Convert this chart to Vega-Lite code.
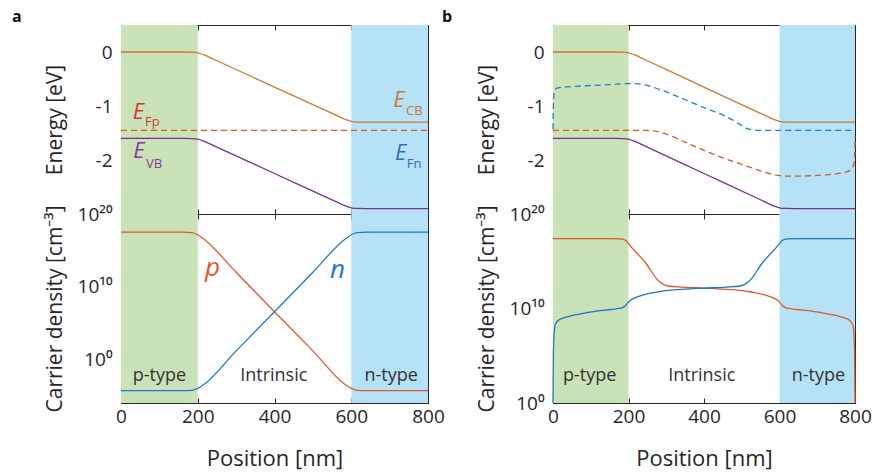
{
"$schema": "https://vega.github.io/schema/vega-lite/v6.json",
"background": "white",
"padding": {"left": 12, "top": 8, "right": 2, "bottom": 3},
"spacing": -3,
"config": {
  "font": "Open Sans",
  "view": {"stroke": null},
  "axis": {"grid": false, "domainColor": "#262626", "domainWidth": 1, "tickColor": "#262626", "tickSize": -5, "tickWidth": 1, "labelColor": "#262626", "titleColor": "#262626", "labelFontSize": 19, "titleFontSize": 21, "titleFontWeight": "normal", "labelFont": "Open Sans", "titleFont": "Open Sans", "zindex": 1, "labelFlush": false, "labelOverlap": false},
  "line": {"strokeWidth": 1.3, "interpolate": "monotone", "clip": true},
  "text": {"font": "Open Sans"}
},
"datasets": {
  "regions": [{"pos": 0, "pos2": 200, "series": "p-region"}, {"pos": 600, "pos2": 800, "series": "n-region"}],
  "bands": [
    {"pos": 0, "E": 0, "series": "CB"}, {"pos": 160, "E": 0, "series": "CB"}, {"pos": 185, "E": -0.003, "series": "CB"}, {"pos": 200, "E": -0.015, "series": "CB"}, {"pos": 215, "E": -0.05, "series": "CB"}, {"pos": 240, "E": -0.13, "series": "CB"}, {"pos": 400, "E": -0.65, "series": "CB"}, {"pos": 560, "E": -1.17, "series": "CB"}, {"pos": 585, "E": -1.25, "series": "CB"}, {"pos": 600, "E": -1.285, "series": "CB"}, {"pos": 615, "E": -1.297, "series": "CB"}, {"pos": 640, "E": -1.3, "series": "CB"}, {"pos": 800, "E": -1.3, "series": "CB"},
    {"pos": 0, "E": -1.6, "series": "VB"}, {"pos": 160, "E": -1.6, "series": "VB"}, {"pos": 185, "E": -1.603, "series": "VB"}, {"pos": 200, "E": -1.615, "series": "VB"}, {"pos": 215, "E": -1.65, "series": "VB"}, {"pos": 240, "E": -1.73, "series": "VB"}, {"pos": 400, "E": -2.25, "series": "VB"}, {"pos": 560, "E": -2.77, "series": "VB"}, {"pos": 585, "E": -2.85, "series": "VB"}, {"pos": 600, "E": -2.885, "series": "VB"}, {"pos": 615, "E": -2.897, "series": "VB"}, {"pos": 640, "E": -2.9, "series": "VB"}, {"pos": 800, "E": -2.9, "series": "VB"}
  ],
  "fermiA": [{"pos": 0, "E": -1.45, "series": "Fp"}, {"pos": 800, "E": -1.45, "series": "Fp"}],
  "fermiB": [
    {"pos": 0, "E": -1.43, "series": "Fn"}, {"pos": 1, "E": -1.0, "series": "Fn"}, {"pos": 3, "E": -0.76, "series": "Fn"}, {"pos": 8, "E": -0.68, "series": "Fn"}, {"pos": 20, "E": -0.655, "series": "Fn"}, {"pos": 60, "E": -0.635, "series": "Fn"}, {"pos": 150, "E": -0.605, "series": "Fn"}, {"pos": 200, "E": -0.585, "series": "Fn"}, {"pos": 225, "E": -0.59, "series": "Fn"}, {"pos": 260, "E": -0.64, "series": "Fn"}, {"pos": 300, "E": -0.74, "series": "Fn"}, {"pos": 400, "E": -1.03, "series": "Fn"}, {"pos": 460, "E": -1.2, "series": "Fn"}, {"pos": 495, "E": -1.34, "series": "Fn"}, {"pos": 515, "E": -1.42, "series": "Fn"}, {"pos": 540, "E": -1.45, "series": "Fn"}, {"pos": 800, "E": -1.45, "series": "Fn"},
    {"pos": 0, "E": -1.45, "series": "Fp"}, {"pos": 240, "E": -1.45, "series": "Fp"}, {"pos": 270, "E": -1.465, "series": "Fp"}, {"pos": 300, "E": -1.52, "series": "Fp"}, {"pos": 350, "E": -1.67, "series": "Fp"}, {"pos": 400, "E": -1.82, "series": "Fp"}, {"pos": 450, "E": -1.96, "series": "Fp"}, {"pos": 500, "E": -2.08, "series": "Fp"}, {"pos": 550, "E": -2.2, "series": "Fp"}, {"pos": 590, "E": -2.28, "series": "Fp"}, {"pos": 630, "E": -2.3, "series": "Fp"}, {"pos": 700, "E": -2.285, "series": "Fp"}, {"pos": 760, "E": -2.245, "series": "Fp"}, {"pos": 785, "E": -2.2, "series": "Fp"}, {"pos": 795, "E": -2.12, "series": "Fp"}, {"pos": 799, "E": -1.95, "series": "Fp"}, {"pos": 800, "E": -1.56, "series": "Fp"}
  ],
  "densityA": [
    {"pos": 0, "density": 3.162e17, "series": "p"}, {"pos": 160, "density": 3.162e17, "series": "p"}, {"pos": 185, "density": 2.818e17, "series": "p"}, {"pos": 200, "density": 1.413e17, "series": "p"}, {"pos": 215, "density": 3.981e16, "series": "p"}, {"pos": 300, "density": 9.55e11, "series": "p"}, {"pos": 400, "density": 3.548e6, "series": "p"}, {"pos": 500, "density": 14.79, "series": "p"}, {"pos": 585, "density": 3.162e-4, "series": "p"}, {"pos": 600, "density": 1e-4, "series": "p"}, {"pos": 615, "density": 5.623e-5, "series": "p"}, {"pos": 640, "density": 5.012e-5, "series": "p"}, {"pos": 800, "density": 5.012e-5, "series": "p"},
    {"pos": 0, "density": 5.012e-5, "series": "n"}, {"pos": 160, "density": 5.012e-5, "series": "n"}, {"pos": 185, "density": 5.623e-5, "series": "n"}, {"pos": 200, "density": 1e-4, "series": "n"}, {"pos": 215, "density": 3.162e-4, "series": "n"}, {"pos": 300, "density": 14.79, "series": "n"}, {"pos": 400, "density": 3.548e6, "series": "n"}, {"pos": 500, "density": 9.55e11, "series": "n"}, {"pos": 585, "density": 3.981e16, "series": "n"}, {"pos": 600, "density": 1.413e17, "series": "n"}, {"pos": 615, "density": 2.818e17, "series": "n"}, {"pos": 640, "density": 3.162e17, "series": "n"}, {"pos": 800, "density": 3.162e17, "series": "n"}
  ],
  "densityB": [
    {"pos": 0, "density": 2.512e17, "series": "p"}, {"pos": 150, "density": 2.512e17, "series": "p"}, {"pos": 180, "density": 2.344e17, "series": "p"}, {"pos": 193, "density": 1.585e17, "series": "p"}, {"pos": 203, "density": 5.012e16, "series": "p"}, {"pos": 245, "density": 6.918e14, "series": "p"}, {"pos": 280, "density": 7.943e12, "series": "p"}, {"pos": 292, "density": 3.548e12, "series": "p"}, {"pos": 305, "density": 2.399e12, "series": "p"}, {"pos": 340, "density": 1.82e12, "series": "p"}, {"pos": 400, "density": 1.445e12, "series": "p"}, {"pos": 460, "density": 1.047e12, "series": "p"}, {"pos": 510, "density": 6.918e11, "series": "p"}, {"pos": 560, "density": 2.818e11, "series": "p"}, {"pos": 585, "density": 1.259e11, "series": "p"}, {"pos": 598, "density": 6.026e10, "series": "p"}, {"pos": 607, "density": 2.239e10, "series": "p"}, {"pos": 616, "density": 1.259e10, "series": "p"}, {"pos": 630, "density": 9.55e9, "series": "p"}, {"pos": 686, "density": 5.248e9, "series": "p"}, {"pos": 748, "density": 1.82e9, "series": "p"}, {"pos": 783, "density": 6.761e8, "series": "p"}, {"pos": 794, "density": 1.995e8, "series": "p"}, {"pos": 797.5, "density": 1e7, "series": "p"}, {"pos": 799, "density": 1e5, "series": "p"}, {"pos": 800, "density": 1, "series": "p"},
    {"pos": 800, "density": 2.512e17, "series": "n"}, {"pos": 650, "density": 2.512e17, "series": "n"}, {"pos": 620, "density": 2.344e17, "series": "n"}, {"pos": 607, "density": 1.585e17, "series": "n"}, {"pos": 597, "density": 5.012e16, "series": "n"}, {"pos": 555, "density": 6.918e14, "series": "n"}, {"pos": 520, "density": 7.943e12, "series": "n"}, {"pos": 508, "density": 3.548e12, "series": "n"}, {"pos": 495, "density": 2.399e12, "series": "n"}, {"pos": 460, "density": 1.82e12, "series": "n"}, {"pos": 400, "density": 1.445e12, "series": "n"}, {"pos": 340, "density": 1.047e12, "series": "n"}, {"pos": 290, "density": 6.918e11, "series": "n"}, {"pos": 240, "density": 2.818e11, "series": "n"}, {"pos": 215, "density": 1.259e11, "series": "n"}, {"pos": 202, "density": 6.026e10, "series": "n"}, {"pos": 193, "density": 2.239e10, "series": "n"}, {"pos": 184, "density": 1.259e10, "series": "n"}, {"pos": 170, "density": 9.55e9, "series": "n"}, {"pos": 114, "density": 5.248e9, "series": "n"}, {"pos": 52, "density": 1.82e9, "series": "n"}, {"pos": 17, "density": 6.761e8, "series": "n"}, {"pos": 6, "density": 1.995e8, "series": "n"}, {"pos": 2.5, "density": 1e7, "series": "n"}, {"pos": 1, "density": 1e5, "series": "n"}, {"pos": 0, "density": 1, "series": "n"}
  ],
  "labelsE": [
    {"kind": "E", "text": "E", "pos": 30.5, "E": -1.24, "series": "Fp-label"},
    {"kind": "sub", "text": "Fp", "pos": 62.5, "E": -1.365, "series": "Fp-label"},
    {"kind": "E", "text": "E", "pos": 32, "E": -1.963, "series": "VB-label"},
    {"kind": "sub", "text": "VB", "pos": 65, "E": -2.148, "series": "VB-label"},
    {"kind": "E", "text": "E", "pos": 709.5, "E": -1.02, "series": "CB-label"},
    {"kind": "sub", "text": "CB", "pos": 742.7, "E": -1.161, "series": "CB-label"},
    {"kind": "E", "text": "E", "pos": 714, "E": -1.994, "series": "Fn-label"},
    {"kind": "sub", "text": "Fn", "pos": 744.5, "E": -2.148, "series": "Fn-label"}
  ],
  "labelsDA": [
    {"kind": "carrier", "text": "p", "pos": 219, "density": 2.95e11, "series": "p-label"},
    {"kind": "carrier", "text": "n", "pos": 544.6, "density": 1.78e11, "series": "n-label"},
    {"kind": "region", "text": "p-type", "pos": 100, "density": 1.07e-3, "series": "region-label"},
    {"kind": "region", "text": "Intrinsic", "pos": 398, "density": 1.07e-3, "series": "region-label"},
    {"kind": "region", "text": "n-type", "pos": 704, "density": 1.07e-3, "series": "region-label"}
  ],
  "labelsDB": [
    {"kind": "region", "text": "p-type", "pos": 97, "density": 195, "series": "region-label"},
    {"kind": "region", "text": "Intrinsic", "pos": 394, "density": 195, "series": "region-label"},
    {"kind": "region", "text": "n-type", "pos": 703, "density": 195, "series": "region-label"}
  ]
},
"hconcat": [
  {
    "title": {"text": "a", "anchor": "start", "frame": "group", "dx": -109, "fontSize": 16, "fontWeight": "bold", "font": "Open Sans", "color": "#111111", "offset": 0},
    "bounds": "flush",
    "spacing": 0,
    "vconcat": [
      {
        "width": 307, "height": 189,
        "resolve": {"axis": {"x": "independent", "y": "independent"}},
        "layer": [
          {
            "encoding": {"x": {"field": "pos", "type": "quantitative", "scale": {"domain": [0, 800], "nice": false, "zero": false}, "axis": {"values": [0, 200, 400, 600, 800], "labels": false, "title": null}}},
            "layer": [
              {"data": {"name": "regions"}, "mark": {"type": "rect"}, "encoding": {"x2": {"field": "pos2"}, "color": {"field": "series", "type": "nominal", "legend": null, "scale": {"domain": ["p-region","n-region","CB","VB","Fp","Fn","p","n","CB-label","VB-label","Fp-label","Fn-label","p-label","n-label","region-label"], "range": ["#c9e2b7","#b6e2f7","#c97a2e","#7e2f8e","#e0582a","#1f7fcc","#e0582a","#1f77c8","#c97d30","#8b3a9c","#d93a30","#2f6fc0","#e0582a","#1f77c8","#333333"]}}}},
              {"data": {"name": "bands"}, "mark": {"type": "line"}, "encoding": {"y": {"field": "E", "type": "quantitative", "scale": {"domain": [-3, 0.5], "nice": false, "zero": false}, "axis": {"values": [-2, -1, 0], "title": "Energy [eV]", "labelPadding": 14, "titlePadding": 11, "minExtent": 45, "maxExtent": 45, "labelExpr": "datum.value == 0 ? '0' : '-' + abs(datum.value)"}}, "color": {"field": "series", "type": "nominal", "legend": null, "scale": {"domain": ["p-region","n-region","CB","VB","Fp","Fn","p","n","CB-label","VB-label","Fp-label","Fn-label","p-label","n-label","region-label"], "range": ["#c9e2b7","#b6e2f7","#c97a2e","#7e2f8e","#e0582a","#1f7fcc","#e0582a","#1f77c8","#c97d30","#8b3a9c","#d93a30","#2f6fc0","#e0582a","#1f77c8","#333333"]}}}},
              {"data": {"name": "fermiA"}, "mark": {"type": "line", "strokeDash": [6, 4]}, "encoding": {"y": {"field": "E", "type": "quantitative"}, "color": {"field": "series", "type": "nominal", "legend": null}}},
              {"data": {"name": "labelsE"}, "transform": [{"filter": "datum.kind == 'E'"}], "mark": {"type": "text", "align": "left", "baseline": "alphabetic", "fontSize": 22, "fontStyle": "italic"}, "encoding": {"y": {"field": "E", "type": "quantitative"}, "text": {"field": "text"}, "color": {"field": "series", "type": "nominal", "legend": null}}},
              {"data": {"name": "labelsE"}, "transform": [{"filter": "datum.kind == 'sub'"}], "mark": {"type": "text", "align": "left", "baseline": "alphabetic", "fontSize": 13}, "encoding": {"y": {"field": "E", "type": "quantitative"}, "text": {"field": "text"}, "color": {"field": "series", "type": "nominal", "legend": null}}}
            ]
          },
          {"data": {"name": "fermiA"}, "mark": {"type": "point", "opacity": 0}, "encoding": {
            "x": {"field": "pos", "type": "quantitative", "scale": {"domain": [0, 800], "nice": false, "zero": false}, "axis": {"orient": "top", "values": [0, 200, 400, 600, 800], "labels": false, "title": null}},
            "y": {"field": "E", "type": "quantitative", "scale": {"domain": [-3, 0.5], "nice": false, "zero": false}, "axis": {"orient": "right", "values": [-2, -1, 0], "labels": false, "title": null}}}}
        ]
      },
      {
        "width": 307, "height": 189,
        "resolve": {"axis": {"x": "independent", "y": "independent"}},
        "layer": [
          {
            "encoding": {"x": {"field": "pos", "type": "quantitative", "scale": {"domain": [0, 800], "nice": false, "zero": false}, "axis": {"values": [0, 200, 400, 600, 800], "title": "Position [nm]", "titleFontSize": 22, "labelPadding": 9, "titlePadding": 22}}},
            "layer": [
              {"data": {"name": "regions"}, "mark": {"type": "rect"}, "encoding": {"x2": {"field": "pos2"}, "color": {"field": "series", "type": "nominal", "legend": null, "scale": {"domain": ["p-region","n-region","CB","VB","Fp","Fn","p","n","CB-label","VB-label","Fp-label","Fn-label","p-label","n-label","region-label"], "range": ["#c9e2b7","#b6e2f7","#c97a2e","#7e2f8e","#e0582a","#1f7fcc","#e0582a","#1f77c8","#c97d30","#8b3a9c","#d93a30","#2f6fc0","#e0582a","#1f77c8","#333333"]}}}},
              {"data": {"name": "densityA"}, "mark": {"type": "line"}, "encoding": {"y": {"field": "density", "type": "quantitative", "scale": {"type": "log", "domain": [1e-6, 1e20], "nice": false}, "axis": {"values": [1e-5, 1, 1e5, 1e10, 1e15, 1e20], "title": "Carrier density [cm⁻³]", "labelPadding": 14, "titlePadding": 11, "minExtent": 45, "maxExtent": 45, "labelExpr": "datum.value == 1e20 ? '10²⁰' : datum.value == 1e10 ? '10¹⁰' : datum.value == 1 ? '10⁰' : ''"}}, "color": {"field": "series", "type": "nominal", "legend": null}}},
              {"data": {"name": "labelsDA"}, "transform": [{"filter": "datum.kind == 'carrier'"}], "mark": {"type": "text", "align": "left", "baseline": "alphabetic", "fontSize": 26, "fontStyle": "italic"}, "encoding": {"y": {"field": "density", "type": "quantitative"}, "text": {"field": "text"}, "color": {"field": "series", "type": "nominal", "legend": null}}},
              {"data": {"name": "labelsDA"}, "transform": [{"filter": "datum.kind == 'region'"}], "mark": {"type": "text", "align": "center", "baseline": "alphabetic", "fontSize": 18}, "encoding": {"y": {"field": "density", "type": "quantitative"}, "text": {"field": "text"}, "color": {"field": "series", "type": "nominal", "legend": null}}}
            ]
          },
          {"data": {"name": "densityA"}, "mark": {"type": "point", "opacity": 0}, "encoding": {
            "x": {"field": "pos", "type": "quantitative", "scale": {"domain": [0, 800], "nice": false, "zero": false}, "axis": {"orient": "top", "values": [0, 200, 400, 600, 800], "labels": false, "title": null}},
            "y": {"field": "density", "type": "quantitative", "scale": {"type": "log", "domain": [1e-6, 1e20], "nice": false}, "axis": {"orient": "right", "values": [1e-5, 1, 1e5, 1e10, 1e15, 1e20], "labels": false, "title": null}}}}
        ]
      }
    ]
  },
  {
    "title": {"text": "b", "anchor": "start", "frame": "group", "dx": -111, "fontSize": 16, "fontWeight": "bold", "font": "Open Sans", "color": "#111111", "offset": 0},
    "bounds": "flush",
    "spacing": 0,
    "vconcat": [
      {
        "width": 302, "height": 189,
        "resolve": {"axis": {"x": "independent", "y": "independent"}},
        "layer": [
          {
            "encoding": {"x": {"field": "pos", "type": "quantitative", "scale": {"domain": [0, 800], "nice": false, "zero": false}, "axis": {"values": [0, 200, 400, 600, 800], "labels": false, "title": null}}},
            "layer": [
              {"data": {"name": "regions"}, "mark": {"type": "rect"}, "encoding": {"x2": {"field": "pos2"}, "color": {"field": "series", "type": "nominal", "legend": null, "scale": {"domain": ["p-region","n-region","CB","VB","Fp","Fn","p","n","CB-label","VB-label","Fp-label","Fn-label","p-label","n-label","region-label"], "range": ["#c9e2b7","#b6e2f7","#c97a2e","#7e2f8e","#e0582a","#1f7fcc","#e0582a","#1f77c8","#c97d30","#8b3a9c","#d93a30","#2f6fc0","#e0582a","#1f77c8","#333333"]}}}},
              {"data": {"name": "bands"}, "mark": {"type": "line"}, "encoding": {"y": {"field": "E", "type": "quantitative", "scale": {"domain": [-3, 0.5], "nice": false, "zero": false}, "axis": {"values": [-2, -1, 0], "title": "Energy [eV]", "labelPadding": 14, "titlePadding": 11, "minExtent": 45, "maxExtent": 45, "labelExpr": "datum.value == 0 ? '0' : '-' + abs(datum.value)"}}, "color": {"field": "series", "type": "nominal", "legend": null, "scale": {"domain": ["p-region","n-region","CB","VB","Fp","Fn","p","n","CB-label","VB-label","Fp-label","Fn-label","p-label","n-label","region-label"], "range": ["#c9e2b7","#b6e2f7","#c97a2e","#7e2f8e","#e0582a","#1f7fcc","#e0582a","#1f77c8","#c97d30","#8b3a9c","#d93a30","#2f6fc0","#e0582a","#1f77c8","#333333"]}}}},
              {"data": {"name": "fermiB"}, "mark": {"type": "line", "strokeDash": [6, 4]}, "encoding": {"y": {"field": "E", "type": "quantitative"}, "color": {"field": "series", "type": "nominal", "legend": null}}}
            ]
          },
          {"data": {"name": "fermiA"}, "mark": {"type": "point", "opacity": 0}, "encoding": {
            "x": {"field": "pos", "type": "quantitative", "scale": {"domain": [0, 800], "nice": false, "zero": false}, "axis": {"orient": "top", "values": [0, 200, 400, 600, 800], "labels": false, "title": null}},
            "y": {"field": "E", "type": "quantitative", "scale": {"domain": [-3, 0.5], "nice": false, "zero": false}, "axis": {"orient": "right", "values": [-2, -1, 0], "labels": false, "title": null}}}}
        ]
      },
      {
        "width": 302, "height": 189,
        "resolve": {"axis": {"x": "independent", "y": "independent"}},
        "layer": [
          {
            "encoding": {"x": {"field": "pos", "type": "quantitative", "scale": {"domain": [0, 800], "nice": false, "zero": false}, "axis": {"values": [0, 200, 400, 600, 800], "title": "Position [nm]", "titleFontSize": 22, "labelPadding": 9, "titlePadding": 22}}},
            "layer": [
              {"data": {"name": "regions"}, "mark": {"type": "rect"}, "encoding": {"x2": {"field": "pos2"}, "color": {"field": "series", "type": "nominal", "legend": null, "scale": {"domain": ["p-region","n-region","CB","VB","Fp","Fn","p","n","CB-label","VB-label","Fp-label","Fn-label","p-label","n-label","region-label"], "range": ["#c9e2b7","#b6e2f7","#c97a2e","#7e2f8e","#e0582a","#1f7fcc","#e0582a","#1f77c8","#c97d30","#8b3a9c","#d93a30","#2f6fc0","#e0582a","#1f77c8","#333333"]}}}},
              {"data": {"name": "densityB"}, "mark": {"type": "line"}, "encoding": {"y": {"field": "density", "type": "quantitative", "scale": {"type": "log", "domain": [1, 1e20], "nice": false}, "axis": {"values": [1, 1e5, 1e10, 1e15, 1e20], "title": "Carrier density [cm⁻³]", "labelPadding": 14, "titlePadding": 11, "minExtent": 45, "maxExtent": 45, "labelExpr": "datum.value == 1e20 ? '10²⁰' : datum.value == 1e10 ? '10¹⁰' : datum.value == 1 ? '10⁰' : ''"}}, "color": {"field": "series", "type": "nominal", "legend": null}}},
              {"data": {"name": "labelsDB"}, "mark": {"type": "text", "align": "center", "baseline": "alphabetic", "fontSize": 18}, "encoding": {"y": {"field": "density", "type": "quantitative"}, "text": {"field": "text"}, "color": {"field": "series", "type": "nominal", "legend": null}}}
            ]
          },
          {"data": {"name": "densityB"}, "mark": {"type": "point", "opacity": 0}, "encoding": {
            "x": {"field": "pos", "type": "quantitative", "scale": {"domain": [0, 800], "nice": false, "zero": false}, "axis": {"orient": "top", "values": [0, 200, 400, 600, 800], "labels": false, "title": null}},
            "y": {"field": "density", "type": "quantitative", "scale": {"type": "log", "domain": [1, 1e20], "nice": false}, "axis": {"orient": "right", "values": [1, 1e5, 1e10, 1e15, 1e20], "labels": false, "title": null}}}}
        ]
      }
    ]
  }
]
}
